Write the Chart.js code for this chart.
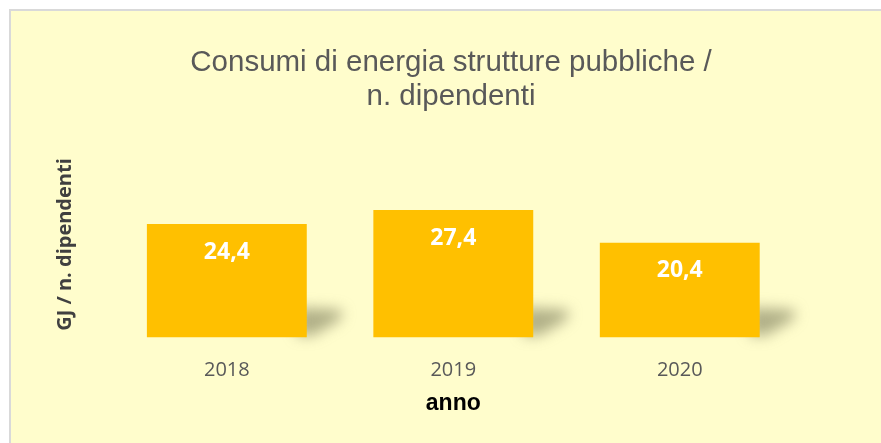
<!DOCTYPE html>
<html>
<head>
<meta charset="utf-8">
<script src="https://cdn.jsdelivr.net/npm/chart.js@4"></script>
<style>
  body { margin: 0; background: #fff; }
  #box {
    position: absolute; left: 9px; top: 9px;
    width: 870px; height: 432px;
    background: #FFFDCC;
    border-left: 2px solid #d9d9d9;
    border-top: 2px solid #d9d9d9;
  }
</style>
</head>
<body>
<div id="box"><canvas id="consumi"></canvas></div>
<script>
// consumi energia / dipendenti
var anni = ['2018', '2019', '2020'];
var valori = [24.4, 27.4, 20.4];
var titolo = ['Consumi di energia strutture pubbliche /', 'n. dipendenti'];

// ombra dietro le barre
var ombra = {
	id: 'ombra',
	beforeDatasetsDraw: function (chart) {
		var ctx = chart.ctx;
		ctx.save();
		ctx.filter = 'blur(7px)';
		ctx.fillStyle = 'rgba(125,125,90,0.6)';
		chart.getDatasetMeta(0).data.forEach(function (bar) {
			var r = bar.x + bar.width / 2;
			var b = bar.base;
			ctx.beginPath();
			ctx.moveTo(r - 10, b - 30);
			ctx.lineTo(r + 30, b - 28);
			ctx.quadraticCurveTo(r + 42, b - 26, r + 30, b - 16);
			ctx.lineTo(r + 6, b - 2);
			ctx.lineTo(r - 10, b - 2);
			ctx.closePath();
			ctx.fill();
		});
		ctx.restore();
	}
};

// etichette valori
var etichette = {
	id: 'etichette',
	afterDatasetsDraw: function (chart) {
		var ctx = chart.ctx;
		ctx.save();
		ctx.font = 'bold 23px "Open Sans"';
		ctx.fillStyle = '#ffffff';
		ctx.textAlign = 'center';
		ctx.textBaseline = 'middle';
		chart.getDatasetMeta(0).data.forEach(function (bar, i) {
			var txt = valori[i].toFixed(1).replace('.', ',');
			ctx.fillText(txt, bar.x, bar.y + 28);
		});
		ctx.restore();
	}
};

var ctx = document.getElementById('consumi').getContext('2d');
var chart = new Chart(ctx, {
	type: 'bar',
	data: {
		labels: anni,
		datasets: [{
			data: valori,
			backgroundColor: '#FFC000',
			barPercentage: 0.706,
			categoryPercentage: 1
		}]
	},
	options: {
		responsive: true,
		maintainAspectRatio: false,
		animation: false,
		layout: { padding: { left: 10, top: 0, right: 0, bottom: 20.8 } },
		plugins: {
			legend: { display: false },
			tooltip: { enabled: false },
			title: {
				display: true,
				text: titolo,
				color: '#595959',
				font: { family: '"Liberation Sans", Arial', size: 29.5, weight: 'normal', lineHeight: 1.15 },
				padding: { top: 35, bottom: 37.6 }
			}
		},
		scales: {
			x: {
				grid: { display: false, drawTicks: false },
				border: { display: false },
				ticks: { color: '#595959', padding: 21, font: { family: '"Open Sans"', size: 20 } },
				title: {
					display: true,
					text: 'anno',
					color: '#000000',
					font: { family: '"Liberation Sans", Arial', size: 23, weight: 'bold' },
					padding: { top: -14, bottom: 5 }
				}
			},
			y: {
				min: 0,
				max: 40,
				grid: { display: false, drawTicks: false },
				border: { display: false },
				ticks: { display: false },
				title: {
					display: true,
					text: 'GJ / n. dipendenti',
					color: '#404040',
					font: { family: '"Open Sans"', size: 20, weight: 'bold' },
					padding: { top: 32, bottom: 36.6 }
				}
			},
			y2: {
				type: 'linear',
				position: 'right',
				grid: { display: false, drawTicks: false },
				border: { display: false },
				ticks: { display: false },
				title: {
					display: true,
					text: '',
					font: { size: 10 },
					padding: { top: 38, bottom: 38 }
				}
			}
		}
	},
	plugins: [ombra, etichette]
});
</script>
</body>
</html>
